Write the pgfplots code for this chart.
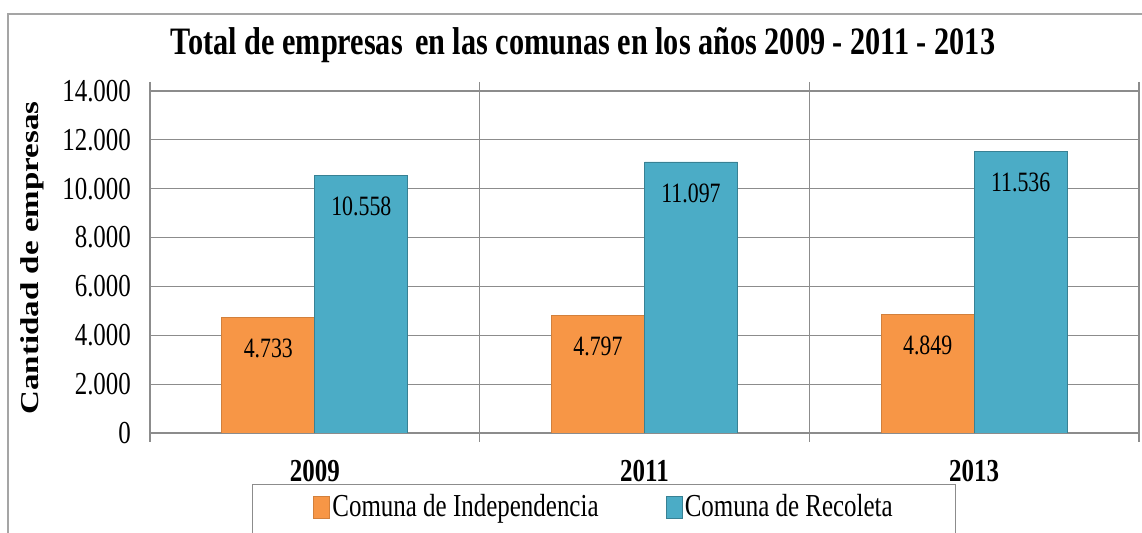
\documentclass[border=0pt]{standalone}
\usepackage{fontspec}
\setmainfont{Liberation Serif}[FakeStretch=0.78]
\newfontfamily\ylfont{Liberation Serif}
\usepackage{pgfplots}
\pgfplotsset{compat=1.18}
\definecolor{orangebar}{RGB}{247,150,70}
\definecolor{tealbar}{RGB}{75,172,198}
\definecolor{gridgray}{RGB}{140,140,140}
\definecolor{framegray}{RGB}{165,165,165}

\begin{document}
\begin{tikzpicture}[x=1pt,y=1pt]
\useasboundingbox (0,0) rectangle (571,266.5);
\draw[framegray, line width=0.9pt] (4,-5) -- (4,259.5) -- (580,259.5);
\node[font=\bfseries\fontsize{19.4}{21}\selectfont] at (291.5,244) {Total de empresas\hspace{0.12em} en las comunas en los años 2009 - 2011 - 2013};
\node[rotate=90, yscale=0.78, font=\ylfont\bfseries\fontsize{16.5}{18}\selectfont] at (16,137.5) {Cantidad de empresas};
\begin{axis}[
  at={(75pt,50pt)}, anchor=south west,
  scale only axis, width=494.5pt, height=171pt,
  ymin=0, ymax=14000, ytick={0,2000,...,14000},
  scaled y ticks=false,
  xmin=-0.5, xmax=2.5, xtick={0,1,2}, xticklabels={2009,2011,2013},
  major tick length=0pt,
  ytick style={draw=none},
  extra x ticks={-0.5,0.5,1.5,2.5}, extra x tick labels={},
  extra x tick style={grid=major, major tick length=4.5pt, tick align=outside, tick style={gridgray, line width=0.6pt}},
  ymajorgrids,
  grid style={gridgray, line width=0.6pt},
  axis line style={gridgray, line width=0.6pt},
  /pgf/number format/.cd, 1000 sep={.}, assume math mode=true, /pgfplots/.cd,
  yticklabel style={font=\fontsize{16}{18}\selectfont, xshift=-6pt},
  xticklabel style={font=\bfseries\fontsize{16}{18}\selectfont, yshift=-10pt},
  ybar=0pt, bar width=46.5pt,
  nodes near coords,
  every node near coord/.append style={font=\fontsize{14}{16}\selectfont, anchor=center, yshift=-15.5pt, text=black},
  legend columns=2,
  legend image code/.code={\fill[#1] (0pt,3.5pt) rectangle (8pt,14.5pt);},
  legend style={at={(0.459,-0.149)}, anchor=north, draw=gridgray, line width=0.6pt,
    font=\fontsize{16}{18}\selectfont, inner xsep=30.5pt, inner ysep=3pt,
    nodes={inner xsep=1pt, text depth=20pt},
    /tikz/every even column/.append style={column sep=32.5pt}},
]
\addplot[fill=orangebar, draw=orangebar!85!black] coordinates {(0,4733) (1,4797) (2,4849)};
\addlegendentry{Comuna de Independencia}
\addplot[fill=tealbar, draw=tealbar!75!black] coordinates {(0,10558) (1,11097) (2,11536)};
\addlegendentry{Comuna de Recoleta}
\end{axis}
\end{tikzpicture}
\end{document}
